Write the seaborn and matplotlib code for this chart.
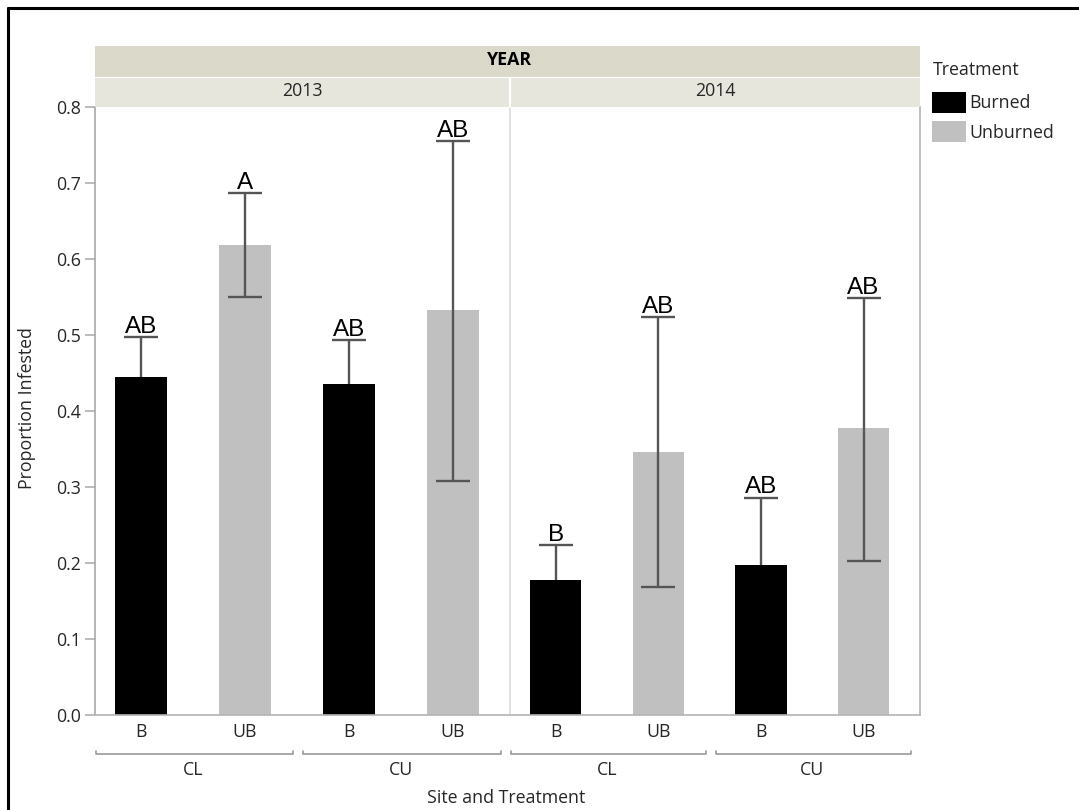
import pandas as pd
import matplotlib.pyplot as plt
import seaborn as sns
import numpy as np
from matplotlib.patches import Rectangle
from matplotlib.lines import Line2D

# values
years = ["2013", "2014"]
sites = ["CL", "CL", "CU", "CU"]
treatments = ["B", "UB", "B", "UB"]
treatment_names = ["Burned", "Unburned", "Burned", "Unburned"]

prop_2013 = [0.445, 0.618, 0.435, 0.533]
upper_2013 = [0.497, 0.687, 0.493, 0.755]
lower_2013 = [np.nan, 0.550, np.nan, 0.308]
letters_2013 = ["AB", "A", "AB", "AB"]

prop_2014 = [0.177, 0.346, 0.198, 0.377]
upper_2014 = [0.224, 0.524, 0.286, 0.549]
lower_2014 = [np.nan, 0.168, np.nan, 0.203]
letters_2014 = ["B", "AB", "AB", "AB"]

y_ticks = [0.0, 0.1, 0.2, 0.3, 0.4, 0.5, 0.6, 0.7, 0.8]

frames = []
for yr, p, up, lo, let in [("2013", prop_2013, upper_2013, lower_2013, letters_2013),
                           ("2014", prop_2014, upper_2014, lower_2014, letters_2014)]:
    frames.append(pd.DataFrame({"YEAR": yr, "Site": sites, "Trt": treatments,
                                "Treatment": treatment_names, "prop": p,
                                "upper": up, "lower": lo, "letter": let}))
df = pd.concat(frames, ignore_index=True)
df["cat"] = df["Site"] + " " + df["Trt"]

sns.set_style("white")
plt.rcParams["font.family"] = ["Open Sans", "DejaVu Sans"]

W, H = 1079, 810
fig = plt.figure(figsize=(W / 100, H / 100), dpi=100)

def fx(px):
    return px / W

def fy(px):
    return 1 - px / H

fs = 12.8
txt_col = "#262626"
palette = {"Burned": "black", "Unburned": "#c0c0c0"}
err_col = "#555555"

panel_edges = [(95, 510), (510, 920)]
axes = []
for i, yr in enumerate(years):
    x0, x1 = panel_edges[i]
    ax = fig.add_axes([fx(x0), fy(715), (x1 - x0) / W, (715 - 107) / H])
    axes.append(ax)
    d = df[df["YEAR"] == yr].reset_index(drop=True)
    order = list(d["cat"])
    sns.barplot(data=d, x="cat", y="prop", hue="Treatment", palette=palette,
                order=order, dodge=False, width=0.5, errorbar=None,
                saturation=1, ax=ax, linewidth=0)

    pos = np.arange(len(d))
    # burned: only the upper half of the error bar
    m = d["Treatment"] == "Burned"
    _, caps, _ = ax.errorbar(pos[m], d["prop"][m],
                             yerr=[np.zeros(m.sum()), (d["upper"] - d["prop"])[m]],
                             fmt="none", ecolor=err_col, elinewidth=1.7,
                             capsize=12.5, capthick=1.7, zorder=5)
    caps[0].set_visible(False)
    # unburned: full interval
    m = d["Treatment"] == "Unburned"
    ax.errorbar(pos[m], d["prop"][m],
                yerr=[(d["prop"] - d["lower"])[m], (d["upper"] - d["prop"])[m]],
                fmt="none", ecolor=err_col, elinewidth=1.7,
                capsize=12.5, capthick=1.7, zorder=5)

    for k in range(len(d)):
        ax.annotate(d["letter"][k], (pos[k], d["upper"][k]), xytext=(0, 3),
                    textcoords="offset points", ha="center", va="baseline",
                    fontsize=17.5, family="Liberation Sans", color="black")

    ax.set_ylim(0, 0.8)
    ax.set_xlim(-0.445, 3.55)
    ax.set_xticks(pos)
    ax.set_xticklabels(d["Trt"])
    ax.tick_params(axis="x", length=0, pad=6, labelsize=fs, labelcolor=txt_col)
    ax.set_xlabel("")
    ax.set_ylabel("")
    if i == 1:
        ax.get_legend().remove()

    # site group brackets under the tick labels
    for site in ["CL", "CU"]:
        idx = pos[d["Site"] == site]
        left, right = idx.min() - 0.44, idx.max() + 0.46
        ax.plot([left, left, right, right], [-0.060, -0.064, -0.064, -0.060],
                transform=ax.get_xaxis_transform(), clip_on=False,
                color="#9a9a9a", lw=1.2)
        ax.text((idx.min() + idx.max()) / 2, -0.091, site,
                transform=ax.get_xaxis_transform(), ha="center", va="center",
                fontsize=fs, color=txt_col)

    for s in ["top", "left", "right", "bottom"]:
        ax.spines[s].set_color("#b4b4b4")
        ax.spines[s].set_linewidth(1.2)
    ax.spines["top"].set_visible(False)

ax1, ax2 = axes
handles, labels = ax1.get_legend_handles_labels()
ax1.get_legend().remove()

ax1.spines["right"].set_visible(False)
ax1.spines["left"].set_color("#a8a8a8")
ax2.spines["left"].set_color("#dadada")
ax1.set_yticks(y_ticks)
ax1.set_yticklabels([f"{v:.1f}" for v in y_ticks])
ax1.tick_params(axis="y", left=True, length=7, width=1.1, color="#a8a8a8",
                pad=3, labelsize=fs, labelcolor=txt_col)
ax2.set_yticks([])

# header bands
fig.add_artist(Rectangle((fx(95), fy(77)), fx(920) - fx(95), fy(46) - fy(77),
                         transform=fig.transFigure, color="#dbd9c9", lw=0))
fig.add_artist(Rectangle((fx(95), fy(107)), fx(920) - fx(95), fy(78) - fy(107),
                         transform=fig.transFigure, color="#e6e6dd", lw=0))
fig.add_artist(Line2D([fx(510), fx(510)], [fy(78), fy(107)],
                      transform=fig.transFigure, color="white", lw=1.5))
fig.text(fx(510), fy(60), "YEAR", ha="center", va="center", fontsize=fs,
         fontweight="bold", color="black")
fig.text(fx(302), fy(91), years[0], ha="center", va="center", fontsize=fs,
         color=txt_col)
fig.text(fx(715), fy(91), years[1], ha="center", va="center", fontsize=fs,
         color=txt_col)

fig.text(fx(506), fy(798), "Site and Treatment", ha="center", va="center",
         fontsize=fs, color=txt_col)
fig.text(fx(27), fy(408), "Proportion Infested", ha="center", va="center",
         rotation=90, fontsize=fs, color=txt_col)

# legend
fig.text(fx(933), fy(70), "Treatment", ha="left", va="center", fontsize=fs,
         color=txt_col)
fig.legend(handles, labels, loc="upper left",
           bbox_to_anchor=(fx(932), fy(92)), frameon=False,
           fontsize=fs, handlelength=1.9,
           handleheight=1.45, handletextpad=0.2, labelspacing=0.45,
           borderpad=0, borderaxespad=0)

# black frame of the original screenshot
fig.add_artist(Line2D([fx(8), 1], [fy(8), fy(8)], transform=fig.transFigure,
                      color="black", lw=2.2))
fig.add_artist(Line2D([fx(8), fx(8)], [fy(8), 0], transform=fig.transFigure,
                      color="black", lw=2.2))

fig.savefig("out.png", dpi=100)
